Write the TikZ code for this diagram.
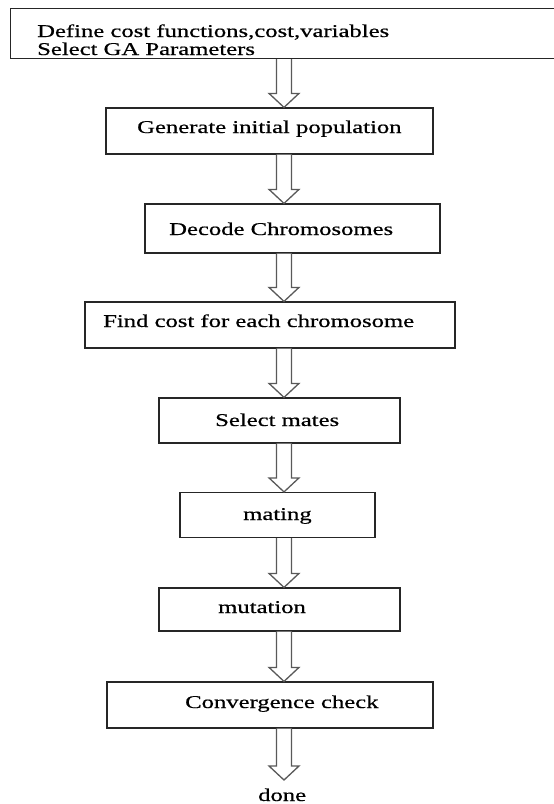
\documentclass[tikz,border=0pt]{standalone}
\usepackage{fontspec}
\setmainfont{Liberation Serif}[FakeBold=0.5]
\usepackage{graphicx}
\usetikzlibrary{calc}
\newcommand{\wide}[1]{\scalebox{1.37}[1]{#1}}
\tikzset{
  box/.style={draw=black!85, line width=1.2pt, rectangle, inner sep=0pt},
  txt/.style={anchor=base west, inner sep=0pt, font=\fontsize{18}{18}\selectfont},
  harr/.style={draw=black!65, line width=1.3pt, fill=white, line join=miter},
}
\newcommand{\harrow}[2]{%
  \draw[harr] let \p1=(#1.south), \p2=(#2) in
    (276.5pt,\y1) -- (276.5pt,\y2+14pt) -- (269pt,\y2+14pt) -- (284pt,\y2)
    -- (299pt,\y2+14pt) -- (291.5pt,\y2+14pt) -- (291.5pt,\y1);}
\begin{document}
\begin{tikzpicture}[x=1pt,y=-1pt]
\clip (0,0) rectangle (554,804);
\fill[white] (0,0) rectangle (554,804);
% boxes
\node[box, minimum width=600pt, minimum height=50pt, anchor=north west] (b1) at (10,8) {};
\node[box, minimum width=327pt, minimum height=46pt] (b2) at (269.5,131) {};
\node[box, minimum width=295pt, minimum height=49pt] (b3) at (292.5,228.5) {};
\node[box, minimum width=370pt, minimum height=46pt] (b4) at (270,325) {};
\node[box, minimum width=241pt, minimum height=45pt] (b5) at (279.5,420.5) {};
\node[box, minimum width=195pt, minimum height=45pt] (b6) at (277.5,515) {};
\node[box, minimum width=241pt, minimum height=43pt] (b7) at (279.5,609.5) {};
\node[box, minimum width=326pt, minimum height=46pt] (b8) at (270,705) {};
\coordinate (end) at (284,780);
% texts
\node[txt] (t1a) at (37,37) {\wide{Define cost functions,cost,variables}};
\node[txt] (t1b) at (37,55) {\wide{Select GA Parameters}};
\node[txt] (t2) at (137,133) {\wide{Generate initial population}};
\node[txt] (t3) at (169,235) {\wide{Decode Chromosomes}};
\node[txt] (t4) at (103,327) {\wide{Find cost for each chromosome}};
\node[txt] (t5) at (215,426) {\wide{Select mates}};
\node[txt] (t6) at (243,520) {\wide{mating}};
\node[txt] (t7) at (218,613) {\wide{mutation}};
\node[txt] (t8) at (185,708) {\wide{Convergence check}};
\node[txt] (t9) at (258,801) {\wide{done}};
% arrows
\harrow{b1}{b2.north}
\harrow{b2}{b3.north}
\harrow{b3}{b4.north}
\harrow{b4}{b5.north}
\harrow{b5}{b6.north}
\harrow{b6}{b7.north}
\harrow{b7}{b8.north}
\harrow{b8}{end}
\end{tikzpicture}
\end{document}
